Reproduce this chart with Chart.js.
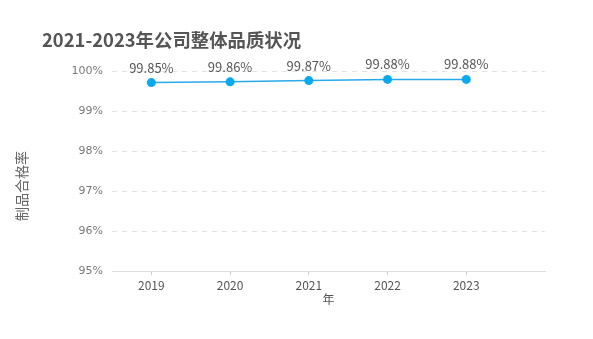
<!DOCTYPE html>
<html lang="zh-CN">

<head>
    <meta charset="UTF-8">
    <title>品质状况</title>
    <script src="https://cdn.jsdelivr.net/npm/chart.js"></script>
    <style>
        body {
            margin: 0;
            background: #ffffff;
        }

        .box {
            width: 593px;
            height: 339px;
        }
    </style>
</head>

<body>
    <div class="box">
        <canvas id="grafico"></canvas>
    </div>

    <script>
        const anos = [2019, 2020, 2021, 2022, 2023];
        const taxa = [99.71, 99.73, 99.76, 99.79, 99.79];
        const rotulos = ['99.85%', '99.86%', '99.87%', '99.88%', '99.88%'];
        const ticksY = [95, 96, 97, 98, 99, 100];

        const fonte = '"Noto Sans CJK SC", "Noto Sans", sans-serif';

        // titulo, titulo do eixo y e os rotulos dos pontos
        const textos = {
            id: 'textos',
            afterDatasetsDraw(chart) {
                const ctx = chart.ctx;
                ctx.save();
                ctx.fillStyle = '#555';
                ctx.font = 'bold 18.4px ' + fonte;
                ctx.textAlign = 'left';
                ctx.textBaseline = 'middle';
                ctx.fillText('2021-2023年公司整体品质状况', 42, 40);

                ctx.fillStyle = '#666';
                ctx.font = '14px ' + fonte;
                ctx.translate(22, 186);
                ctx.rotate(-Math.PI / 2);
                ctx.textAlign = 'center';
                ctx.fillText('制品合格率', 0, 0);
                ctx.restore();

                ctx.save();
                ctx.fillStyle = '#555';
                ctx.font = '13px ' + fonte;
                ctx.textAlign = 'center';
                ctx.textBaseline = 'middle';
                chart.getDatasetMeta(0).data.forEach((p, i) => {
                    ctx.fillText(rotulos[i], p.x, p.y - 15);
                });
                ctx.restore();
            }
        };

        new Chart(document.getElementById('grafico'), {
            type: 'line',
            data: {
                datasets: [{
                    data: anos.map((a, i) => ({ x: a, y: taxa[i] })),
                    borderColor: '#29a9e8',
                    backgroundColor: '#0aa8ef',
                    borderWidth: 1.5,
                    pointRadius: 4.5,
                    pointBorderWidth: 0,
                    tension: 0
                }]
            },
            options: {
                responsive: true,
                maintainAspectRatio: false,
                animation: false,
                layout: {
                    padding: { top: 71, left: 12, right: 48, bottom: 32 }
                },
                plugins: {
                    legend: { display: false },
                    tooltip: { enabled: false }
                },
                scales: {
                    x: {
                        type: 'linear',
                        min: 2018.5,
                        max: 2024,
                        afterBuildTicks: s => { s.ticks = anos.map(v => ({ value: v })); },
                        grid: { drawOnChartArea: false, tickLength: 4, color: '#ccc' },
                        border: { color: '#ddd' },
                        ticks: {
                            padding: 3,
                            color: '#555',
                            font: { family: fonte, size: 12 },
                            callback: v => String(v)
                        },
                        title: {
                            display: true,
                            text: '年',
                            color: '#555',
                            font: { family: fonte, size: 12 },
                            padding: { top: -3, bottom: 0 }
                        }
                    },
                    y: {
                        min: 95,
                        max: 100,
                        afterBuildTicks: s => { s.ticks = ticksY.map(v => ({ value: v })); },
                        afterFit: s => { s.width = 100; },
                        grid: {
                            drawTicks: false,
                            color: c => c.tick && c.tick.value === 95 ? 'rgba(0,0,0,0)' : '#e2e2e2'
                        },
                        border: { display: false, dash: [5, 5] },
                        ticks: {
                            padding: 9,
                            color: '#777',
                            font: { family: '"DejaVu Sans", sans-serif', size: 11 },
                            callback: v => v + '%'
                        }
                    }
                }
            },
            plugins: [textos]
        });
    </script>
</body>

</html>
